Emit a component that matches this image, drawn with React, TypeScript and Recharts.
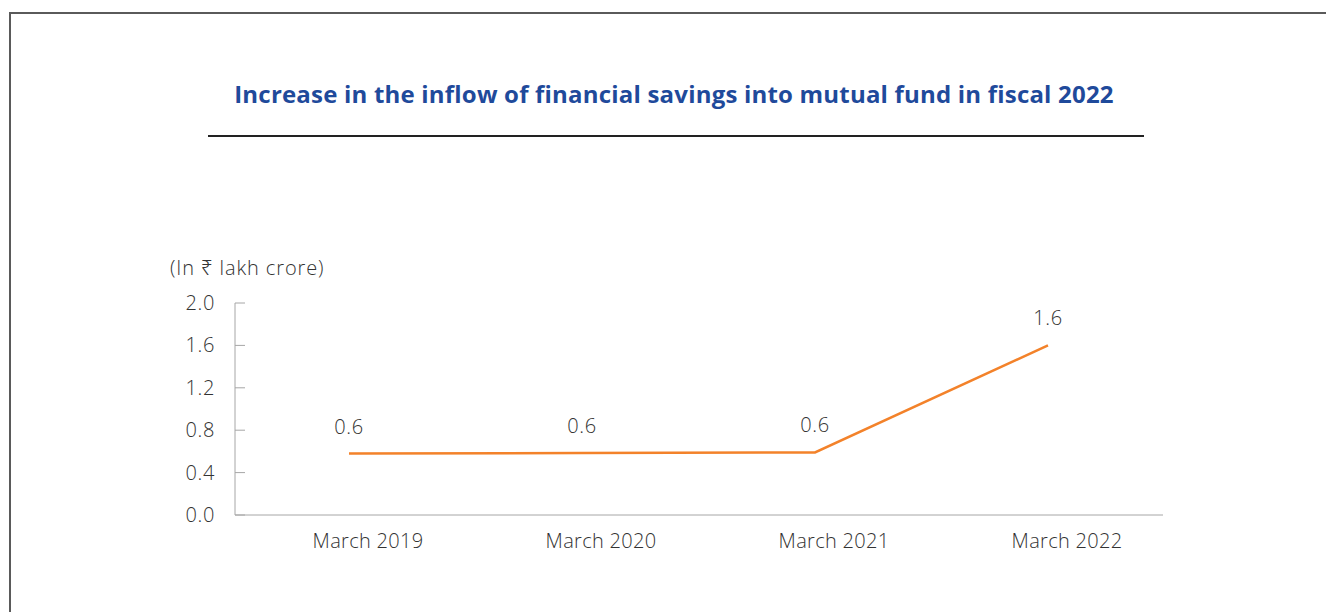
import React from 'react';
import { LineChart, Line, XAxis, YAxis, LabelList } from 'recharts';

const categories = ['March 2019', 'March 2020', 'March 2021', 'March 2022'];
const inflow = [0.58, 0.585, 0.59, 1.6];
const inflowLabels = ['0.6', '0.6', '0.6', '1.6'];
const yTicks = [0, 0.4, 0.8, 1.2, 1.6, 2.0];

const chartData = categories.map((name, i) => ({
  name,
  value: inflow[i],
  label: inflowLabels[i],
}));

const FONT = '"Open Sans", "Noto Sans", sans-serif';
const TEXT = '#333333';
const ORANGE = '#f3822a';

const YTick = (props: any) => {
  const { x, y, payload } = props;
  return (
    <g>
      <line x1={x + 20} x2={x + 30} y1={y} y2={y} stroke="#a6a6a6" strokeWidth={1} />
      <text
        x={x}
        y={y}
        dy="0.35em"
        textAnchor="end"
        fill={TEXT}
        fontSize={20}
        fontWeight={300}
        letterSpacing={0.6}
        fontFamily={FONT}
      >
        {payload.value.toFixed(1)}
      </text>
    </g>
  );
};

const XTick = (props: any) => {
  const { x, y, payload } = props;
  return (
    <text
      x={x + 19}
      y={y}
      dy="0.71em"
      textAnchor="middle"
      fill={TEXT}
      fontSize={20}
      fontWeight={300}
      letterSpacing={0.3}
      fontFamily={FONT}
    >
      {payload.value}
    </text>
  );
};

const PointLabel = (props: any) => {
  const { x, y, value } = props;
  return (
    <text
      x={x}
      y={y - 27}
      dy="0.35em"
      textAnchor="middle"
      fill={TEXT}
      fontSize={20}
      fontWeight={300}
      letterSpacing={0.6}
      fontFamily={FONT}
    >
      {value}
    </text>
  );
};

export default function App() {
  return (
    <div style={{ position: 'absolute', left: 0, top: 0, width: 1326, height: 612, overflow: 'hidden', background: '#fff' }}>
      <div
        style={{
          position: 'absolute',
          left: 9,
          top: 12,
          width: 1340,
          height: 640,
          border: '2px solid #5a5a5a',
          boxSizing: 'border-box',
        }}
      />
      <div
        style={{
          position: 'absolute',
          left: 0,
          width: 1348,
          top: 78,
          textAlign: 'center',
          fontFamily: FONT,
          fontWeight: 700,
          fontSize: 24,
          letterSpacing: 0.2,
          lineHeight: '32px',
          color: '#1f4a9b',
        }}
      >
        Increase in the inflow of financial savings into mutual fund in fiscal 2022
      </div>
      <div style={{ position: 'absolute', left: 208, top: 135, width: 936, height: 2, background: '#222' }} />
      <div
        style={{
          position: 'absolute',
          left: 170,
          top: 254,
          fontFamily: FONT,
          fontSize: 20,
          fontWeight: 300,
          letterSpacing: 0.9,
          lineHeight: '28px',
          color: TEXT,
        }}
      >
        (In ₹ lakh crore)
      </div>
      <div style={{ position: 'absolute', left: 0, top: 0 }}>
        <LineChart
          width={1326}
          height={612}
          data={chartData}
          margin={{ top: 303, right: 163, bottom: 67, left: 175 }}
        >
          <XAxis
            dataKey="name"
            height={30}
            axisLine={{ stroke: '#a6a6a6' }}
            tickLine={false}
            tickSize={0}
            tickMargin={19}
            padding={{ left: 114, right: 115 }}
            tick={<XTick />}
          />
          <YAxis
            width={60}
            domain={[0, 2]}
            ticks={yTicks}
            axisLine={{ stroke: '#a6a6a6' }}
            tickLine={false}
            tickSize={0}
            tickMargin={20}
            tick={<YTick />}
          />
          <Line
            dataKey="value"
            type="linear"
            stroke={ORANGE}
            strokeWidth={2.5}
            dot={false}
            activeDot={false}
            isAnimationActive={false}
          >
            <LabelList dataKey="label" content={<PointLabel />} />
          </Line>
        </LineChart>
      </div>
    </div>
  );
}
